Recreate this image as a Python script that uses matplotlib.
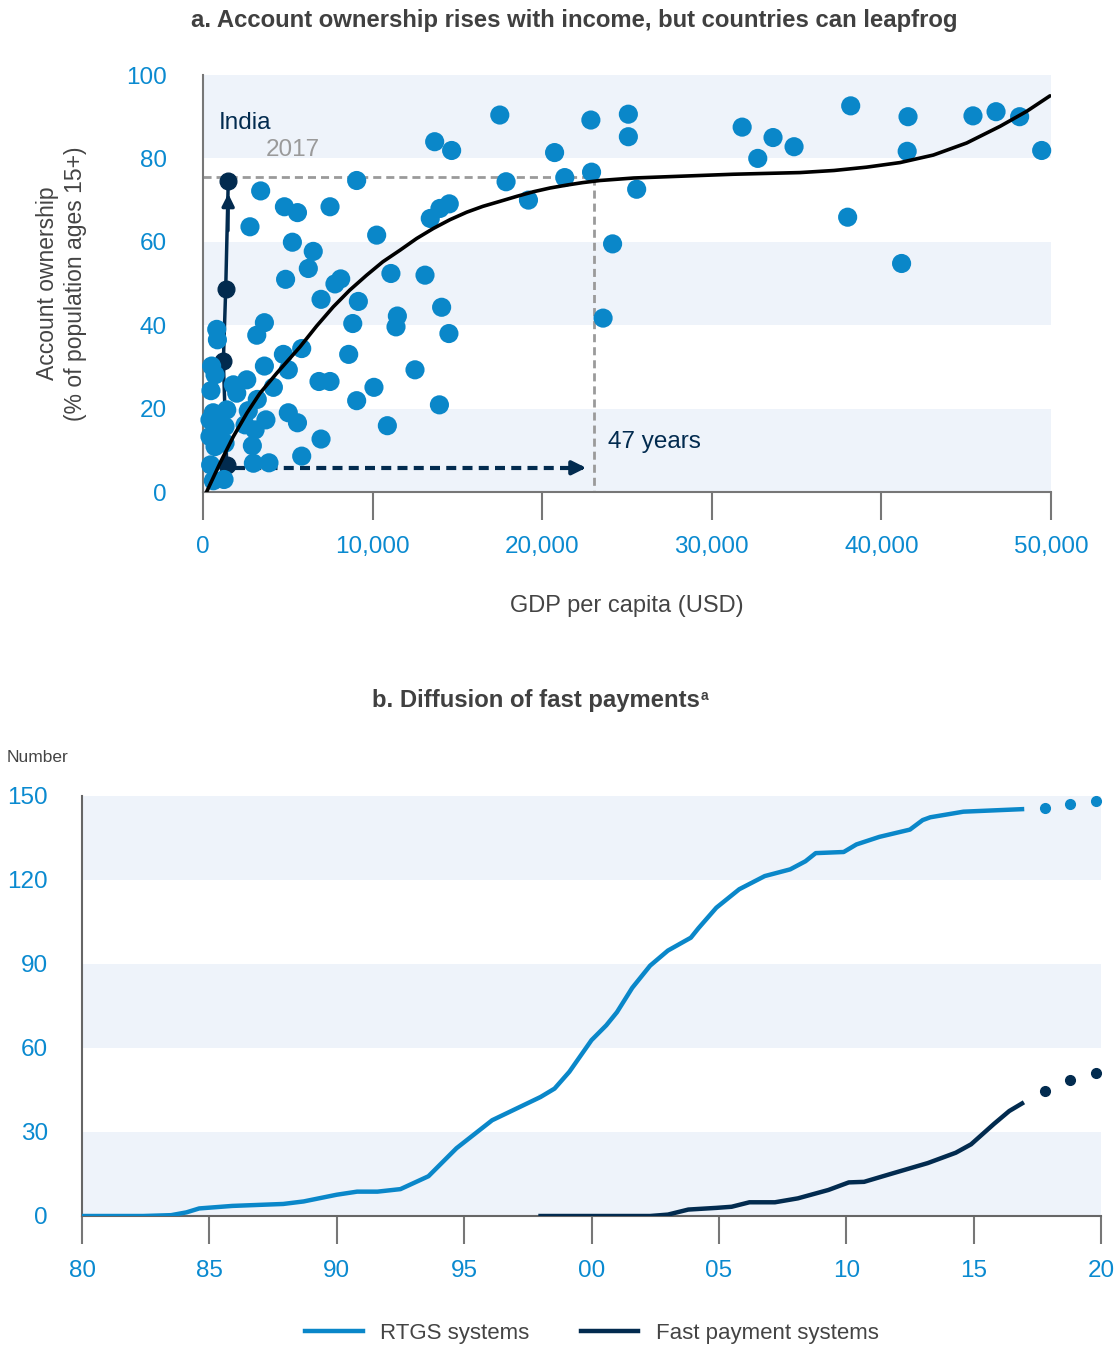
import numpy as np
import matplotlib.pyplot as plt
import matplotlib.ticker as mtick

plt.rcParams['font.family'] = ['Liberation Sans', 'DejaVu Sans']

# ---- panel a: account ownership vs GDP per capita
gdp = [13660, 14660, 9060, 3400, 2770, 4800, 5570, 7490, 13400, 13970, 14520, 10240,
       5270, 6500, 6210, 4870, 7780, 8120, 11080, 13090, 6960, 9160, 14070, 8830,
       11460, 11380, 14500, 3620, 3170, 810, 850, 5820, 8590, 4740, 5030, 3620,
       12500, 6840, 7490, 10080, 4150, 2580, 1790, 1990, 470, 510, 710, 3200,
       2670, 3710, 5030, 5570, 9060, 13940, 10870, 6960, 2910, 5820, 2970, 3890,
       450, 610, 1240, 410, 1400, 1300, 410, 1300, 710, 2480, 3070, 900, 1000, 600,
       17500, 17870, 19190, 20730, 21330, 22870, 22910, 25080, 25080, 25570, 24150,
       23590, 31790, 33610, 32710, 34850, 38190, 38010, 41570, 41520, 41190, 45400,
       46760, 48150, 49450]
acct = [84.0, 81.9, 74.7, 72.2, 63.6, 68.4, 67.0, 68.4, 65.6, 68.0, 69.1, 61.6,
        59.9, 57.7, 53.6, 51.0, 49.9, 51.1, 52.4, 52.0, 46.2, 45.7, 44.3, 40.4,
        42.2, 39.6, 38.0, 40.6, 37.6, 39.0, 36.5, 34.4, 33.0, 33.0, 29.3, 30.2,
        29.3, 26.5, 26.5, 25.1, 25.1, 26.9, 25.7, 23.7, 24.3, 30.2, 28.1, 22.2,
        19.5, 17.3, 19.0, 16.6, 21.9, 20.9, 15.9, 12.7, 11.1, 8.6, 6.9, 7.0,
        6.5, 2.7, 3.0, 17.3, 19.7, 15.7, 13.3, 11.7, 10.9, 16.1, 14.9, 16.5, 13.0, 19.0,
        90.4, 74.4, 70.0, 81.4, 75.4, 89.2, 76.7, 90.6, 85.2, 72.6, 59.5,
        41.7, 87.5, 85.0, 80.0, 82.8, 92.6, 65.9, 90.0, 81.7, 54.8, 90.2,
        91.2, 90.0, 81.9]

fit_x = [220, 1000, 1790, 2600, 3360, 4350, 5720, 6700, 7680, 8650, 9650, 10600,
         11620, 12600, 13580, 14560, 15550, 16500, 17510, 18500, 19480, 20460, 21440,
         22400, 23410, 25400, 27340, 29300, 31270, 33200, 35200, 37200, 39130, 41100,
         43060, 45030, 47000, 48570, 49940]
fit_y = [0.1, 6.9, 13.3, 19.0, 23.7, 28.5, 34.8, 39.8, 44.4, 48.4, 52.0, 55.2,
         58.0, 60.8, 63.2, 65.3, 67.1, 68.5, 69.7, 70.9, 72.0, 72.9, 73.6, 74.2,
         74.7, 75.3, 75.6, 75.9, 76.2, 76.4, 76.6, 77.1, 77.9, 79.0, 80.8, 83.7,
         87.7, 91.3, 95.0]

india_x = [1400, 1200, 1340, 1490]
india_y = [6.5, 31.3, 48.8, 74.7]

# ---- panel b: diffusion of payment systems
rtgs_yr = [1980, 1982.4, 1983.5, 1984.1, 1984.6, 1985.9, 1987.9, 1988.7, 1990.0, 1990.8,
           1991.6, 1992.5, 1993.6, 1994.7, 1996.1, 1998.0, 1998.55, 1999.13, 2000.0,
           2000.58, 2001.0, 2001.6, 2002.3, 2003.0, 2003.9, 2004.2, 2004.9, 2005.8,
           2006.8, 2007.8, 2008.4, 2008.8, 2009.9, 2010.4, 2011.3, 2012.5, 2013.0,
           2013.3, 2014.6, 2016.9]
rtgs_n = [0, 0, 0.3, 1.3, 2.7, 3.6, 4.3, 5.2, 7.6, 8.7, 8.7, 9.6, 14.2, 24.2, 34.2,
          42.5, 45.5, 51.5, 62.8, 68.1, 72.8, 81.5, 89.4, 94.8, 99.4, 102.8, 110.1,
          116.7, 121.4, 123.8, 126.7, 129.6, 130.0, 132.7, 135.4, 138.0, 141.4, 142.4,
          144.4, 145.3]
fast_yr = [1998.0, 2002.3, 2003.0, 2003.8, 2004.9, 2005.5, 2006.2, 2007.2, 2008.1,
           2009.3, 2010.1, 2010.7, 2011.7, 2013.2, 2014.3, 2014.9, 2015.8, 2016.4, 2016.9]
fast_n = [0, 0, 0.5, 2.3, 2.9, 3.3, 4.9, 4.9, 6.3, 9.3, 12.0, 12.2, 14.9, 18.9, 22.6,
          25.6, 32.9, 37.5, 40.2]
proj_yr = [2017.8, 2018.8, 2019.8]
rtgs_proj = [145.7, 147.1, 148.3]
fast_proj = [44.6, 48.4, 51.2]

blue = '#0a87c9'
navy = '#022b4f'
band = '#eef3fa'
tickblue = '#0a8ad0'
grey_txt = '#444444'
narrow = ['Liberation Sans Narrow', 'Liberation Sans']

fig = plt.figure(figsize=(11.19, 13.48), dpi=100)

# ================= panel a
ax = fig.add_axes([203 / 1119, 1 - 492 / 1348, 848 / 1119, 417 / 1348])
for lo in (0, 40, 80):
    ax.axhspan(lo, lo + 20, color=band, zorder=0, lw=0)
ax.set_xlim(0, 50000)
ax.set_ylim(0, 100)

ax.plot([0, 23080], [75.5, 75.5], color='#9a9a9a', lw=2, dashes=(2.9, 1.8), zorder=1)
ax.plot([23080, 23080], [75.5, 0], color='#9a9a9a', lw=2, dashes=(2.9, 1.8), zorder=1)

ax.plot(india_x, india_y, color=navy, lw=2.5, marker='o', ms=12, zorder=2)
ax.annotate('', xy=(india_x[-1], india_y[-1] - 2.5), xytext=(1470, 62),
            arrowprops=dict(arrowstyle='-|>', color=navy, lw=2.5, mutation_scale=18),
            zorder=2)

ax.plot([1900, 22100], [5.8, 5.8], color=navy, lw=3, dashes=(2.4, 1.5), zorder=2.5)
ax.annotate('', xy=(22750, 5.8), xytext=(21900, 5.8),
            arrowprops=dict(arrowstyle='-|>', color=navy, lw=3, mutation_scale=20),
            zorder=2.5)

ax.scatter(gdp, acct, s=190, color=blue, edgecolors='none', zorder=3, clip_on=False)

ax.plot(fit_x, fit_y, color='black', lw=2.6, zorder=5, solid_capstyle='round')

ax.text(950, 88.5, 'India', color=navy, fontsize=17.5, ha='left', va='center')
ax.text(3700, 82.0, '2017', color='#9a9a9a', fontsize=17.5, ha='left', va='center')
ax.text(23900, 12, '47 years', color=navy, fontsize=17.5, ha='left', va='center')

ax.set_xticks(np.arange(0, 50001, 10000))
ax.set_yticks(np.arange(0, 101, 20))
ax.xaxis.set_major_formatter(mtick.StrMethodFormatter('{x:,.0f}'))
ax.tick_params(axis='x', length=20, width=1.5, color='#777777', labelsize=17.5,
               labelcolor=tickblue, pad=12)
ax.tick_params(axis='y', length=0, labelsize=17.5, labelcolor=tickblue, pad=26)
for s in ('top', 'right'):
    ax.spines[s].set_visible(False)
for s in ('left', 'bottom'):
    ax.spines[s].set_color('#777777')
    ax.spines[s].set_linewidth(1.5)
ax.set_xlabel('GDP per capita (USD)', fontsize=17, color=grey_txt, labelpad=26)
ax.set_ylabel('Account ownership\n(% of population ages 15+)', fontsize=16.5,
              color=grey_txt, labelpad=28, linespacing=1.3)

fig.text(574 / 1119, 1 - 20 / 1348,
         'a. Account ownership rises with income, but countries can leapfrog',
         fontsize=17.2, fontweight='bold', color='#404040', ha='center', va='center',
         family=narrow)

# ================= panel b
bx = fig.add_axes([82 / 1119, 1 - 1216 / 1348, 1019 / 1119, 420 / 1348])
for lo in (0, 60, 120):
    bx.axhspan(lo, lo + 30, color=band, zorder=0, lw=0)
bx.set_xlim(1980, 2020)
bx.set_ylim(0, 150)

bx.plot(rtgs_yr, rtgs_n, color=blue, lw=3.2, zorder=3, label='RTGS systems')
bx.plot(fast_yr, fast_n, color=navy, lw=3.2, zorder=3, label='Fast payment systems')
bx.plot(proj_yr, rtgs_proj, 'o', color=blue, ms=7, zorder=3, clip_on=False)
bx.plot(proj_yr, fast_proj, 'o', color=navy, ms=7, zorder=3, clip_on=False)

xt = np.arange(1980, 2021, 5)
bx.set_xticks(xt)
bx.set_xticklabels(['%02d' % (y % 100) for y in xt])
bx.set_yticks(np.arange(0, 151, 30))
bx.tick_params(axis='x', length=20, width=1.5, color='#777777', labelsize=17.5,
               labelcolor=tickblue, pad=12)
bx.tick_params(axis='y', length=0, labelsize=17.5, labelcolor=tickblue, pad=24.5)
for s in ('top', 'right'):
    bx.spines[s].set_visible(False)
for s in ('left', 'bottom'):
    bx.spines[s].set_color('#666666')
    bx.spines[s].set_linewidth(1.5)

fig.text(7 / 1119, 1 - 757 / 1348, 'Number', fontsize=12.5, color=grey_txt,
         ha='left', va='center')

tb = fig.text(536 / 1119, 1 - 701 / 1348, 'b. Diffusion of fast payments',
              fontsize=17.2, fontweight='bold', color='#404040', ha='center',
              va='center', family=narrow)
bx.annotate('a', xy=(1, 1), xycoords=tb, xytext=(0.5, 0), textcoords='offset points',
            fontsize=10, fontweight='bold', color='#404040', ha='left', va='top',
            family=narrow)

fig.legend(loc='center', bbox_to_anchor=(0.529, 1 - 1333 / 1348), ncol=2, frameon=False,
           fontsize=16, handlelength=2.6, handletextpad=0.8, columnspacing=2.3,
           labelcolor=grey_txt)

fig.savefig('out.png', dpi=100)
